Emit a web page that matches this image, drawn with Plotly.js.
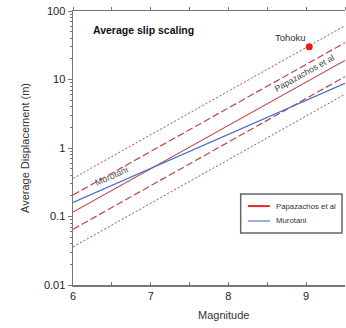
<!DOCTYPE html>
<html>
<head>
<meta charset="utf-8">
<script src="https://cdn.plot.ly/plotly-3.0.1.min.js"></script>
<style>html,body{margin:0;padding:0;background:#fff;}#chart{width:346px;height:328px;}</style>
</head>
<body>
<div id="chart"></div>
<script>
// Magnitude endpoints for each scaling relation
const magnitudes = [6, 9.5];

// Papazachos et al: mean relation and its 1- and 2-sigma bounds (m)
const papazachosMean = [0.116, 19.0];
const papazachosPlus1 = [0.206, 34.5];
const papazachosMinus1 = [0.065, 11.0];
const papazachosPlus2 = [0.36, 61.0];
const papazachosMinus2 = [0.036, 6.1];

// Murotani relation (m)
const murotani = [0.161, 8.8];

// Observed event
const eventNames = ['Tohoku'];
const eventMagnitudes = [9.04];
const eventSlip = [30];

// Legend labels
const legendLabels = ['Papazachos et al', 'Murotani'];

const lineRed = '#b84646';
const legendRed = '#dd2a2a';
const blue = '#4a6ad2';

const traces = [
  {x: magnitudes, y: papazachosPlus2, mode: 'lines', line: {color: lineRed, width: 1, dash: '2px,2px'}},
  {x: magnitudes, y: papazachosMinus2, mode: 'lines', line: {color: lineRed, width: 1, dash: '2px,2px'}},
  {x: magnitudes, y: papazachosPlus1, mode: 'lines', line: {color: lineRed, width: 1.2, dash: '7px,3px'}},
  {x: magnitudes, y: papazachosMinus1, mode: 'lines', line: {color: lineRed, width: 1.2, dash: '7px,3px'}},
  {x: magnitudes, y: papazachosMean, mode: 'lines', line: {color: lineRed, width: 1.2}},
  {x: magnitudes, y: murotani, mode: 'lines', line: {color: blue, width: 1.2}},
  {x: eventMagnitudes, y: eventSlip, mode: 'markers', marker: {color: '#f01818', size: 7}},
  // keeps the top frame axis alive
  {x: [6], y: [1], xaxis: 'x2', mode: 'markers', marker: {opacity: 0}}
];

const axisColor = '#777';
const tickFont = {family: 'Liberation Sans, Arial, sans-serif', size: 11, color: '#222'};

// boxed key in the lower right of the plot area
const key = {x0: 0.6165, x1: 0.989, y0: 0.19, y1: 0.332, lineX0: 0.643, lineX1: 0.724, textX: 0.738, rows: [0.288, 0.2336]};
const keyStyles = [{color: legendRed, width: 2}, {color: blue, width: 1.1}];

const shapes = [
  {type: 'rect', xref: 'paper', yref: 'paper', x0: key.x0, x1: key.x1, y0: key.y0, y1: key.y1,
   line: {color: '#666', width: 1.5}, fillcolor: '#fff', layer: 'above'}
];
const keyAnnotations = [];
legendLabels.forEach((label, i) => {
  shapes.push({type: 'line', xref: 'paper', yref: 'paper', x0: key.lineX0, x1: key.lineX1,
               y0: key.rows[i], y1: key.rows[i], line: keyStyles[i], layer: 'above'});
  keyAnnotations.push({xref: 'paper', yref: 'paper', x: key.textX, y: key.rows[i], xanchor: 'left', yanchor: 'middle',
                       text: label, showarrow: false, font: {size: 7.8, color: '#333'}});
});

const layout = {
  width: 346, height: 328,
  showlegend: false,
  margin: {l: 73, r: 1, t: 11, b: 43, autoexpand: false},
  paper_bgcolor: '#fff', plot_bgcolor: '#fff',
  font: {family: 'Liberation Sans, Arial, sans-serif', color: '#222'},
  xaxis: {
    range: [6, 9.5], dtick: 1, tick0: 6,
    showgrid: false, zeroline: false,
    showline: true, linecolor: axisColor, linewidth: 1.5,
    ticks: 'inside', ticklen: 3, tickcolor: axisColor,
    minor: {dtick: 0.5, ticks: 'inside', ticklen: 3, tickcolor: axisColor},
    tickfont: tickFont
  },
  xaxis2: {
    overlaying: 'x', side: 'top', range: [6, 9.5], dtick: 0.5, tick0: 6,
    showgrid: false, zeroline: false, showticklabels: false,
    showline: true, linecolor: axisColor, linewidth: 1.5,
    ticks: 'outside', ticklen: 3, tickcolor: axisColor
  },
  yaxis: {
    type: 'log', range: [-2, 2], dtick: 1,
    tickvals: [0.01, 0.1, 1, 10, 100], ticktext: ['0.01', '0.1', '1', '10', '100'],
    showgrid: false, zeroline: false,
    showline: true, linecolor: axisColor, linewidth: 1.5,
    ticks: 'outside', ticklen: 4, tickcolor: axisColor,
    minor: {ticks: 'outside', ticklen: 2, tickcolor: axisColor, dtick: 'D1'},
    tickfont: tickFont,
    title: {text: 'Average Displacement (m)', font: {size: 11, color: '#333'}, standoff: 12}
  },
  shapes: shapes,
  annotations: [
    {xref: 'paper', yref: 'paper', x: 0.066, y: 0.93, xanchor: 'left', yanchor: 'middle',
     text: '<b>Average slip scaling</b>', showarrow: false, font: {size: 10.5, color: '#111'}},
    {xref: 'paper', yref: 'paper', x: 0.555, y: -0.11, xanchor: 'center', yanchor: 'middle',
     text: 'Magnitude', showarrow: false, font: {size: 11, color: '#333'}},
    {x: eventMagnitudes[0] - 0.235, y: Math.log10(eventSlip[0]) + 0.13, text: eventNames[0],
     showarrow: false, font: {size: 9.5, color: '#333'}},
    {x: 6.5, y: -0.41, text: legendLabels[1], textangle: -24, showarrow: false, font: {size: 9, color: '#555'}},
    {x: 8.98, y: 1.095, text: legendLabels[0], textangle: -29, showarrow: false, font: {size: 8.7, color: '#444'}}
  ].concat(keyAnnotations)
};

Plotly.newPlot('chart', traces, layout, {staticPlot: true, displayModeBar: false});
</script>
</body>
</html>
